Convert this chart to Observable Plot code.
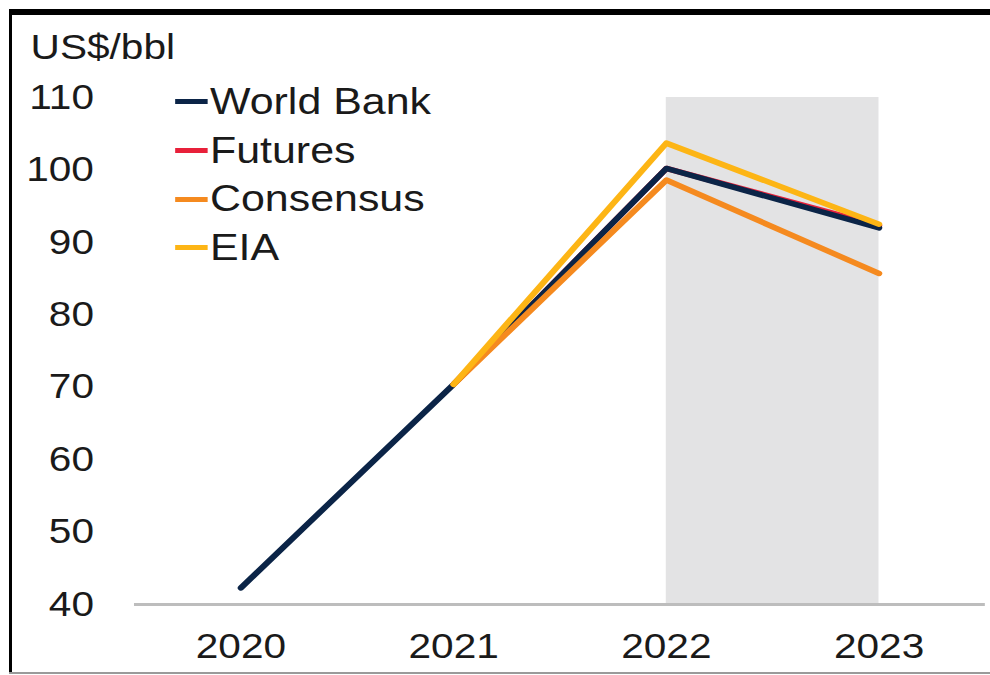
<!DOCTYPE html>
<html>
<head>
<meta charset="utf-8">
<script src="https://cdn.jsdelivr.net/npm/d3@7"></script>
<script src="https://cdn.jsdelivr.net/npm/@observablehq/plot@0.6"></script>
<style>
  html, body { margin: 0; padding: 0; background: #fff; }
  #frame { position: relative; width: 990px; height: 675px; overflow: hidden; background: #fff; }
  #stretch { position: absolute; left: 0; top: 0; width: 853px; height: 675px; transform: scaleX(1.16); transform-origin: 0 0; }
  #legend { position: absolute; left: 151px; top: 77.5px; font-family: 'Liberation Sans', Arial, sans-serif; font-size: 37px; color: #1a1a1a; }
  #legend .row { display: flex; align-items: center; height: 48.7px; }
  #legend .sw { width: 28px; height: 5px; margin-right: 2px; }
  .border { position: absolute; }
</style>
</head>
<body>
<div id="frame">
  <div id="stretch">
    <div id="chart"></div>
    <div id="legend"></div>
  </div>
  <div class="border" style="left:9px;top:9px;width:981px;height:6px;background:#000"></div>
  <div class="border" style="left:9px;top:9px;width:3px;height:664px;background:#000"></div>
  <div class="border" style="left:9px;top:672px;width:981px;height:2px;background:#9a9a9a"></div>
</div>
<script>
const years = [2020, 2021, 2022, 2023];
const seriesNames = ["World Bank", "Futures", "Consensus", "EIA"];
const seriesColors = ["#0b2447", "#e8203a", "#f58a1f", "#fdb515"];
const worldBank = [42.3, 70.4, 100.2, 92.0];
const futures = [null, 70.4, 100.2, 92.3];
const consensus = [null, 70.4, 98.6, 85.7];
const eia = [null, 70.4, 103.7, 92.5];
const yTicks = [40, 50, 60, 70, 80, 90, 100, 110];
const forecastYears = [2022, 2023];
const unitLabel = "US$/bbl";

// draw order: Futures underneath, then World Bank, Consensus, EIA on top
const drawOrder = [["Futures", futures], ["World Bank", worldBank], ["Consensus", consensus], ["EIA", eia]];
const rows = [];
for (const [name, vals] of drawOrder) {
  vals.forEach((v, i) => { if (v != null) rows.push({series: name, year: years[i], value: v}); });
}

const chart = Plot.plot({
  width: 853,
  height: 675,
  marginTop: 97,
  marginBottom: 71,
  marginLeft: 115.5,
  marginRight: 4,
  style: {fontFamily: "'Liberation Sans', Arial, sans-serif", fontSize: "35px", color: "#1a1a1a", background: "transparent", overflow: "visible"},
  x: {domain: [2019.5, 2023.5]},
  y: {domain: [40, 110]},
  color: {domain: seriesNames, range: seriesColors},
  marks: [
    Plot.rect([forecastYears], {x1: d => d[0], x2: d => d[1], fill: "#e3e3e4"}),
    Plot.ruleY([40], {stroke: "#bdbdbd", strokeWidth: 3}),
    Plot.line(rows, {x: "year", y: "value", z: "series", stroke: "series", strokeWidth: 5.5, strokeLinecap: "round", strokeLinejoin: "round"}),
    Plot.axisY({ticks: yTicks, tickSize: 0, tickPadding: 35, label: null}),
    Plot.axisX({ticks: years, tickSize: 0, tickPadding: 29, label: null, tickFormat: d => String(d)}),
    Plot.text([unitLabel], {frameAnchor: "top-left", dx: -89.6, dy: -49.5, textAnchor: "start", lineAnchor: "middle", fontSize: 35, fill: "#1a1a1a"})
  ]
});
document.getElementById("chart").appendChild(chart);

const legend = document.getElementById("legend");
seriesNames.forEach((name, i) => {
  const row = document.createElement("div");
  row.className = "row";
  const sw = document.createElement("span");
  sw.className = "sw";
  sw.style.background = seriesColors[i];
  const label = document.createElement("span");
  label.textContent = name;
  row.appendChild(sw);
  row.appendChild(label);
  legend.appendChild(row);
});
</script>
</body>
</html>
